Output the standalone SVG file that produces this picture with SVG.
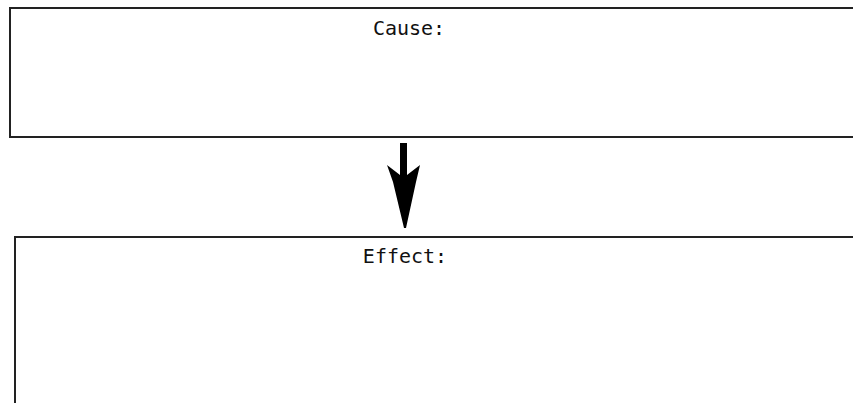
<svg xmlns="http://www.w3.org/2000/svg" width="853" height="403" viewBox="0 0 853 403">
<style>
.box{fill:#fff;stroke:#222;stroke-width:2}
.lbl{font-family:"DejaVu Sans Mono","Liberation Mono",monospace;font-size:20px;fill:#111;text-anchor:middle}
</style>
<rect width="853" height="403" fill="#fff"/>
<g id="cause">
<rect class="box" x="10" y="8" width="860" height="129"/>
<text class="lbl" x="409" y="35">Cause:</text>
</g>
<g id="effect">
<rect class="box" x="15" y="237" width="860" height="200"/>
<text class="lbl" x="405" y="263">Effect:</text>
</g>
<g id="connectors">
<path d="M400,143 L407,143 L407,175 L420,165 L416,182 L406,228 L404,228 L393,182 L387,165 L400,175 Z" fill="#000"/>
</g>
</svg>
